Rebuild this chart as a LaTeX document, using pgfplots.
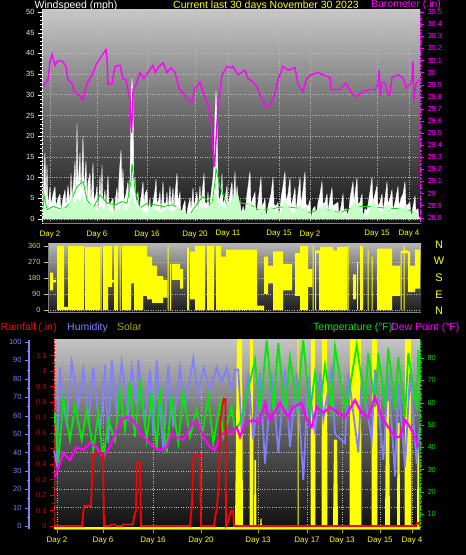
\documentclass[border=0pt]{standalone}
\usepackage{fontspec}
\setmainfont{Liberation Sans}
\usepackage{pgfplots}
\pgfplotsset{compat=1.18}
\definecolor{avgc}{RGB}{200,255,200}
\definecolor{spdc}{RGB}{0,230,0}
\definecolor{baroc}{RGB}{255,0,255}
\definecolor{dayc}{RGB}{255,255,0}
\definecolor{gridc}{RGB}{185,185,185}
\definecolor{humc}{RGB}{128,128,255}
\definecolor{rainc}{RGB}{255,0,0}
\definecolor{raintc}{RGB}{210,0,0}
\definecolor{tempc}{RGB}{0,235,0}
\definecolor{temptc}{RGB}{0,210,0}
\definecolor{dewc}{RGB}{255,0,255}
\definecolor{solc}{RGB}{255,255,0}
\definecolor{soltc}{RGB}{170,170,0}
\definecolor{dirtc}{RGB}{205,205,90}
\definecolor{windtc}{RGB}{232,236,255}
\definecolor{bgtop}{RGB}{200,200,200}
\definecolor{bgmid}{RGB}{104,104,104}
\definecolor{bgbot}{RGB}{18,18,18}
\pgfplotsset{
  mybase/.style={
    scale only axis, anchor=south west,
    /pgf/number format/assume math mode=true,
    tick label style={font=\fontsize{7.5}{8}\selectfont},
    tick align=outside,
    major tick length=4bp, minor tick length=2bp,
    major grid style={gridc, dotted, line width=0.6bp},
  },
  mybg/.style={axis background/.style={top color=bgtop, bottom color=bgbot, middle color=bgmid}},
}
\begin{document}
\begin{tikzpicture}
\path[use as bounding box, fill=black] (0,0) rectangle (466bp,555bp);

% ---------- titles ----------
\node[anchor=base west, inner sep=0, text=white, font=\fontsize{10.5}{12}\selectfont] at (34.5bp,546.5bp) {Windspeed (mph)};
\node[anchor=base west, inner sep=0, text=dayc, font=\fontsize{10.5}{12}\selectfont] at (173bp,546.5bp) {Current last 30 days November 30 2023};
\node[anchor=base west, inner sep=0, text=baroc, font=\fontsize{10.5}{12}\selectfont] at (371bp,547.5bp) {Barometer (.in)};
\node[anchor=base west, inner sep=0, text=rainc, font=\fontsize{10.5}{12}\selectfont] at (0.5bp,224bp) {Rainfall (.in)};
\node[anchor=base west, inner sep=0, text=humc, font=\fontsize{10.5}{12}\selectfont] at (67bp,224bp) {Humidity};
\node[anchor=base west, inner sep=0, text=soltc, font=\fontsize{10.5}{12}\selectfont] at (117bp,224bp) {Solar};
\node[anchor=base west, inner sep=0, text=tempc, font=\fontsize{10.5}{12}\selectfont] at (313bp,224bp) {Temperature (°F)};
\node[anchor=base west, inner sep=0, text=dewc, font=\fontsize{10.5}{12}\selectfont] at (391bp,224bp) {Dew Point (°F)};
\foreach \l/\yy in {N/310,W/294,S/277,E/260,N/244}
  \node[inner sep=0, text=dayc, font=\fontsize{11}{12}\selectfont] at (439bp,\yy bp) {\l};

% ---------- top panel: wind ----------
\begin{axis}[mybase, mybg, at={(42bp,332bp)}, width=378bp, height=213bp,
  xmin=42, xmax=420, ymin=-1, ymax=50.5,
  axis x line*=bottom, axis y line*=left,
  x axis line style={gray}, y axis line style={white, densely dotted},
  ytick={0,5,...,50}, minor y tick num=4,
  yticklabel style={text=windtc}, y tick style={white},
  xtick={50,97,147,195,228,279,310,377,409},
  xticklabels={Day 2,Day 6,Day 16,Day 20,Day 11,Day 15,Day 2,Day 15,Day 4},
  xticklabel style={text=dayc, font=\fontsize{8}{9}\selectfont},
  x tick style={draw=none},
  grid=major]
\addplot[fill=white, draw=white, line width=0.3bp] coordinates {(42,0)(43,0)(44,12)(45,16)(46,4)(47,13)(48,3)(50,7.7)(51,3.5)(53,6)(55,7.7)(56,3)(58,5)(60,6)(61,2)(63,5)(65,7)(66,3)(68,8)(70,4)(71,11)(72,5)(74,10)(75,14)(76,6)(77,23)(78,8)(80,16)(81,6)(82,12)(83,20)(84,7)(86,14)(87,5)(88,9)(90,11)(91,3.5)(93,13.5)(94,4)(96,6)(97,8)(98,1)(100,10.5)(101,4)(102,13)(103,3.5)(105,7)(106,2)(108,10.5)(109,3.5)(111,4)(113,5)(114,0)(115,4)(117,7.5)(118,3)(119,10)(121,16.6)(122,8)(123,12)(124,4)(126,6)(128,9)(129,3.5)(130,10)(131,28)(132,34)(133,30)(134,8)(135,10)(136,3.5)(138,6.5)(139,2)(141,5)(143,9)(144,3.5)(145,6)(147,7)(148,2)(150,5)(151,0)(153,4)(155,7)(156,9.6)(157,3.5)(159,5)(160,6.5)(161,1)(163,9)(164,3.5)(166,4)(167,6.5)(168,2)(170,8)(171,3)(173,7.5)(174,2)(175,6)(177,11)(178,4)(180,6.5)(181,0)(183,3)(185,4.5)(186,0)(188,3)(190,5)(191,2)(193,7.5)(194,3)(197,6.5)(198,2)(200,8)(201,3.5)(202,6)(204,11)(205,4)(207,3.5)(208,6.5)(209,2)(211,6)(213,10)(214,13)(215,25)(216,31)(217,24)(218,10)(219,4)(221,6)(222,11)(223,3.5)(225,5)(227,8)(228,3)(230,6)(232,9)(233,3)(235,11.4)(236,3.5)(237,8)(239,3)(240,4.6)(241,0)(243,3)(245,1.5)(247,6)(250,11.4)(251,3.5)(253,5)(255,6.5)(256,0)(258,4)(261,10)(262,3)(264,4)(265,5)(266,0)(268,3)(271,6)(273,10)(274,3.5)(276,3)(278,4)(279,0)(281,5)(283,8)(285,11.4)(286,4)(288,6)(290,10)(291,3)(293,5)(295,7.5)(296,2)(298,6)(300,10)(301,3.5)(303,7)(305,11.4)(306,3.5)(308,3)(310,4.6)(311,0)(313,2.5)(315,3)(316,0)(318,4)(320,6)(322,9)(323,3.5)(325,4)(327,6)(328,2)(330,5)(332,7.5)(333,3)(335,3.5)(338,4)(339,0)(341,3)(343,6)(344,2)(346,2.5)(348,0)(350,5)(353,9)(354,4)(355,6)(357,10)(358,3.5)(360,4)(362,6)(363,0)(365,2.5)(367,2)(369,5)(372,10)(373,4)(375,6)(377,8)(378,3)(380,4)(382,6)(383,2)(385,5)(387,9)(388,3.5)(390,5)(392,7)(393,2)(395,4)(398,7.8)(399,3)(401,5)(403,6)(405,9)(406,3)(408,3.5)(410,4)(411,0)(413,3)(415,5.5)(416,2)(418,2.5)(419,0)(420,0)} \closedcycle;
\addplot[spdc, line width=0.9bp] coordinates {(43,2)(44,5.8)(47,2.2)(53,3)(63,2.2)(70,3.8)(77,7.8)(83,9)(87,4.6)(93,2.6)(100,5.8)(107,3.8)(115,3.4)(122,4.2)(127,3.8)(131,9)(132,13.4)(135,7)(140,2.6)(147,3.8)(155,3.4)(163,3)(173,3.4)(182,1.8)(187,0)(193,2.2)(200,4.6)(203,5.4)(212,3.4)(215,9)(216,12.2)(220,7.8)(227,3.4)(235,4)(250,3.5)(260,2)(273,2.5)(285,3)(300,2.5)(310,1.5)(322,2.5)(340,1.5)(355,3)(372,3)(387,2.5)(398,2.5)(410,2)(418,1)};
\addplot[fill=avgc, draw=avgc, line width=0.3bp] coordinates {(43,0)(44,3)(46,2.6)(48,1.4)(50,2.2)(53,2.5)(57,2.2)(60,1.5)(63,3)(66,2)(69,3.5)(72,5.4)(75,3.5)(77,5)(80,4)(82,5.8)(84,3.5)(86,4.6)(89,3)(92,3.8)(95,2)(97,1.8)(100,3)(103,2.2)(107,3.4)(110,2)(113,1.4)(116,2.6)(119,2)(123,3.8)(125,2)(128,2.2)(131,5)(132,6.2)(134,4)(135,3.4)(138,2)(140,3)(143,1.6)(147,1.4)(150,2.5)(152,3)(155,2)(157,2.2)(160,1.5)(163,1.8)(166,2.5)(170,2.2)(173,1.5)(177,3)(180,2)(183,2.2)(186,1)(188,1.5)(192,1.4)(195,2)(200,3)(203,2.5)(207,2.6)(210,3)(213,4.2)(216,7)(218,4)(222,3)(225,2.6)(227,4)(230,3.8)(233,5)(235,6)(238,5.6)(240,3)(242,1.5)(245,2)(248,3.5)(250,4)(252,2.5)(255,3)(258,1)(261,3.5)(264,2)(266,0.8)(269,2.5)(272,3)(274,1.5)(277,2)(280,1)(283,3)(285,4.5)(288,3)(291,2)(294,1)(297,2.5)(300,3.5)(303,2)(306,3)(309,1)(312,0.5)(315,1.5)(318,2.5)(322,3)(325,3.5)(328,1.5)(331,2.5)(334,2)(337,1)(340,2)(343,1)(346,0.5)(349,2)(352,3)(355,4.5)(358,3.5)(361,2)(364,1)(367,0.5)(370,2.5)(373,4)(376,3.5)(379,2)(382,1.5)(385,3)(388,3.5)(391,2.5)(394,1.5)(397,2)(400,3)(403,2)(406,3.5)(409,1.5)(412,1)(415,2)(418,1)(420,0)} \closedcycle;
\end{axis}

% ---------- top panel: barometer ----------
\begin{axis}[mybase, at={(42bp,332bp)}, width=378bp, height=213bp,
  xmin=42, xmax=420, ymin=28.756, ymax=30.517,
  axis x line=none, axis y line*=right,
  y axis line style={baroc, densely dotted},
  ytick={28.8,28.9,29.0,29.1,29.2,29.3,29.4,29.5,29.6,29.7,29.8,29.9,30.0,30.1,30.2,30.3,30.4,30.5},
  yticklabels={28.8,28.9,29,29.1,29.2,29.3,29.4,29.5,29.6,29.7,29.8,29.9,30,30.1,30.2,30.3,30.4,30.5},
  minor y tick num=1,
  yticklabel style={text=baroc}, y tick style={baroc}]
\addplot[baroc, line width=1.4bp] coordinates {(43,29.89)(48,29.94)(50,30.09)(52,30.15)(55,30.06)(58,30.10)(63,30.09)(66,30.05)(68,29.94)(72,29.91)(75,29.83)(80,29.81)(83,29.77)(87,29.91)(92,29.98)(97,30.08)(102,30.14)(106,30.19)(107,30.12)(108,29.90)(112,29.91)(115,30.05)(120,30.06)(123,29.95)(126,29.94)(128,29.86)(130,29.77)(131,29.57)(131.5,29.50)(132.5,29.69)(133,29.86)(136,29.90)(140,30.00)(144,29.95)(148,30.00)(153,30.06)(155,30.00)(159,30.05)(163,30.08)(167,30.00)(171,30.04)(175,30.00)(179,29.87)(185,29.81)(188,29.77)(192,29.76)(195,29.87)(200,29.92)(203,29.84)(208,29.73)(211,29.61)(213,29.36)(214.5,29.22)(216,29.44)(218,29.73)(219,29.77)(222,29.98)(227,30.05)(232,30.04)(233,30.05)(238,29.98)(245,30.02)(248,29.95)(253,29.92)(257,29.88)(261,29.80)(266,29.71)(270,29.73)(275,29.83)(278,29.94)(283,30.05)(288,30.02)(295,30.04)(298,29.90)(303,29.84)(306,29.94)(311,29.98)(318,30.00)(323,29.98)(330,29.96)(331,29.86)(340,29.86)(346,29.91)(351,29.84)(356,29.80)(363,29.84)(370,29.86)(375,29.86)(378,29.90)(379,30.02)(380,29.81)(382,29.92)(385,29.92)(388,29.81)(390,29.82)(392,29.96)(398,29.98)(403,29.96)(406,29.87)(411,29.91)(412,29.94)(413,30.09)(414,29.77)(416,29.91)(419,29.94)};
\end{axis}

% ---------- wind direction ----------
\begin{axis}[mybase, at={(48bp,243bp)}, width=373bp, height=68bp,
  axis background/.style={top color={rgb,255:red,180;green,180;blue,180}, bottom color={rgb,255:red,28;green,28;blue,28}, middle color={rgb,255:red,96;green,96;blue,96}},
  xmin=48, xmax=421, ymin=-11, ymax=371,
  axis x line*=bottom, axis y line*=left,
  axis line style={gray},
  xtick=\empty,
  ytick={0,90,180,270,360}, ymajorgrids,
  yticklabel style={text=dirtc}, y tick style={dirtc}]
\addplot[fill=solc, draw=none, unbounded coords=jump] coordinates {
(50,110)(50,210)(53,210)(53,110)(53,nan)
(53,155)(53,168)(56,168)(56,155)(56,nan)
(57,0)(57,360)(64,360)(64,0)(64,nan)
(64,0)(64,18)(68,18)(68,0)(68,nan)
(68,0)(68,360)(84,360)(84,0)(84,nan)
(85,0)(85,355)(100,355)(100,0)(100,nan)
(100.5,0)(100.5,360)(101.5,360)(101.5,0)(101.5,nan)
(103,0)(103,360)(108,360)(108,0)(108,nan)
(108,130)(108,360)(112,360)(112,130)(112,nan)
(112,155)(112,168)(114,168)(114,155)(114,nan)
(114,0)(114,360)(118,360)(118,0)(118,nan)
(119.5,0)(119.5,360)(120.5,360)(120.5,0)(120.5,nan)
(122,0)(122,360)(131,360)(131,0)(131,nan)
(131,150)(131,360)(134,360)(134,150)(134,nan)
(134,0)(134,360)(143,360)(143,0)(143,nan)
(143,80)(143,360)(147,360)(147,80)(147,nan)
(147,60)(147,300)(152,300)(152,60)(152,nan)
(152,40)(152,250)(157,250)(157,40)(157,nan)
(157,40)(157,190)(163,190)(163,40)(163,nan)
(163,70)(163,170)(167,170)(167,70)(167,nan)
(167.5,0)(167.5,360)(168.5,360)(168.5,0)(168.5,nan)
(170,0)(170,260)(171,260)(171,0)(171,nan)
(172,170)(172,260)(180,260)(180,170)(180,nan)
(180,120)(180,230)(183,230)(183,120)(183,nan)
(187,0)(187,350)(189,350)(189,0)(189,nan)
(190,60)(190,330)(195,330)(195,60)(195,nan)
(195,0)(195,360)(205,360)(205,0)(205,nan)
(207,0)(207,360)(214,360)(214,0)(214,nan)
(216,0)(216,360)(221,360)(221,0)(221,nan)
(221,0)(221,300)(226,300)(226,0)(226,nan)
(226,0)(226,340)(257,340)(257,0)(257,nan)
(257,0)(257,25)(264,25)(264,0)(264,nan)
(264,90)(264,300)(268,300)(268,90)(268,nan)
(268,150)(268,250)(273,250)(273,150)(273,nan)
(273,0)(273,330)(283,330)(283,0)(283,nan)
(283,110)(283,260)(292,260)(292,110)(292,nan)
(295,80)(295,320)(300,320)(300,80)(300,nan)
(300,0)(300,360)(308,360)(308,0)(308,nan)
(308,130)(308,230)(312,230)(312,130)(312,nan)
(312.5,0)(312.5,360)(313.5,360)(313.5,0)(313.5,nan)
(315,0)(315,335)(316,335)(316,0)(316,nan)
(316,320)(316,335)(319,335)(319,320)(319,nan)
(319,0)(319,335)(320,335)(320,0)(320,nan)
(320,0)(320,355)(333,355)(333,0)(333,nan)
(333,0)(333,335)(337,335)(337,0)(337,nan)
(337,0)(337,355)(347,355)(347,0)(347,nan)
(347.5,0)(347.5,360)(348.5,360)(348.5,0)(348.5,nan)
(353,60)(353,200)(356,200)(356,60)(356,nan)
(357,0)(357,270)(358,270)(358,0)(358,nan)
(360,0)(360,360)(363,360)(363,0)(363,nan)
(367.5,0)(367.5,340)(368.5,340)(368.5,0)(368.5,nan)
(371.5,0)(371.5,300)(372.5,300)(372.5,0)(372.5,nan)
(377,0)(377,345)(392,345)(392,0)(392,nan)
(392,80)(392,250)(400,250)(400,80)(400,nan)
(400.5,0)(400.5,330)(401.5,330)(401.5,0)(401.5,nan)
(401.5,320)(401.5,335)(408,335)(408,320)(408,nan)
(403.5,0)(403.5,360)(404.5,360)(404.5,0)(404.5,nan)
(408,100)(408,330)(410,330)(410,100)(410,nan)
(410,100)(410,250)(415,250)(415,100)(415,nan)
(415,120)(415,340)(420,340)(420,120)};
\end{axis}

% ---------- bottom panel: background, rain scale, grid ----------
\begin{axis}[mybase, at={(54bp,26bp)}, width=366bp, height=189bp,
  axis background/.style={top color={rgb,255:red,196;green,196;blue,196}, bottom color={rgb,255:red,16;green,16;blue,16}, middle color={rgb,255:red,92;green,92;blue,92}},
  xmin=54, xmax=420, ymin=-0.019, ymax=1.2,
  axis x line*=bottom, axis y line*=left,
  x axis line style={gray}, y axis line style={raintc, densely dotted},
  ytick={0,0.1,0.2,0.3,0.4,0.5,0.6,0.7,0.8,0.9,1.0,1.1},
  yticklabels={0,0.1,0.2,0.3,0.4,0.5,0.6,0.7,0.8,0.9,1,1.1},
  minor y tick num=1,
  yticklabel style={text=raintc}, y tick style={raintc},
  xtick={57,103,153,201,258,307,342,380,412},
  xticklabels={Day 2,Day 6,Day 16,Day 20,Day 13,Day 17,Day 13,Day 15,Day 4},
  xticklabel style={text=dayc, font=\fontsize{8}{9}\selectfont},
  x tick style={dayc!70!black},
  xmajorgrids,
  extra y ticks={0.1187,0.2374,0.3561,0.4748,0.5935,0.7122,0.8309,0.9496,1.0683,1.187},
  extra y tick labels={},
  extra y tick style={grid=major, major tick length=0pt}]
\end{axis}

% ---------- humidity + solar ----------
\begin{axis}[mybase, at={(29bp,26bp)}, width=391bp, height=189bp,
  xmin=29, xmax=420, ymin=-1.6, ymax=101.1,
  axis x line=none, axis y line*=left,
  y axis line style={humc, line width=1.2bp},
  ytick={0,10,...,100}, minor y tick num=1,
  yticklabel style={text=humc}, y tick style={humc}]
\addplot[fill=solc, draw=none, unbounded coords=jump] coordinates {
(235,-1.6)(237,102)(242,102)(243,-1.6)(243,nan)
(249.5,-1.6)(250,102)(253,102)(253.5,-1.6)(253.5,nan)
(254,-1.6)(254.5,36)(256,36)(256.5,-1.6)(256.5,nan)
(260,-1.6)(260.5,4)(261.5,4)(262,-1.6)(262,nan)
(297.5,-1.6)(297.5,102)(298.5,102)(298.5,-1.6)(298.5,nan)
(310.5,-1.6)(311,102)(315,102)(315.5,-1.6)(315.5,nan)
(321.5,-1.6)(322,102)(327,102)(327.5,-1.6)(327.5,nan)
(333,-1.6)(334,47)(337,47)(338,-1.6)(338,nan)
(349.5,-1.6)(350,102)(361,102)(361.5,-1.6)(361.5,nan)
(371.5,-1.6)(372,102)(377,102)(377.5,-1.6)(377.5,nan)
(385,-1.6)(386,68)(389,68)(390,-1.6)(390,nan)
(397,-1.6)(397.5,56)(399.5,56)(400,-1.6)(400,nan)
(404.5,-1.6)(405,102)(411,102)(411.5,-1.6)(411.5,nan)
(417,-1.6)(417.5,43)(419,43)(419.5,-1.6)};
\addplot[solc, line width=1.8bp] coordinates {(54,-1)(420,-1)};
\addplot[humc, line width=1.8bp] coordinates {(54,41)(56.7,34)(60,86)(63.3,65)(66.7,56)(71.7,89)(75,78)(78.3,65)(83.3,85)(88.3,56)(93.3,86)(100,50)(105,87.5)(108.3,45)(111.7,90)(116.7,61)(121.7,89)(128.3,61)(131.7,86)(136.7,65)(138.3,90)(145,56)(150,85)(153.3,50)(156.7,90)(163.3,41)(168.3,87.5)(173.3,54)(180,86)(185,65)(193.3,91)(198.3,70)(203.3,86)(210,74)(216.7,86)(221.7,78)(226.7,86)(231.7,74)(235,85)(238.3,85)(241.7,50)(248.3,83)(253.3,47)(260,83)(265,34)(271.7,83)(278.3,40)(285,85)(290,43)(296.7,83)(303.3,25)(308.3,81)(315,50)(320,83)(323.3,58)(331.7,85)(335,50)(345,45)(348.3,83)(358.3,40)(361.7,81)(371.7,47)(375,85)(383.3,36)(388.3,83)(395,27)(398.3,78)(405,32)(410,83)(416.7,34)(420,55)};
\end{axis}

% ---------- temperature + dew point ----------
\begin{axis}[mybase, at={(54bp,26bp)}, width=366bp, height=189bp,
  xmin=54, xmax=420, ymin=3.27, ymax=88.1,
  axis x line=none, axis y line*=right,
  y axis line style={temptc, densely dotted},
  ytick={10,20,...,80}, minor y tick num=4,
  yticklabel style={text=temptc}, y tick style={temptc}]
\addplot[tempc, line width=1.8bp] coordinates {(54,50.8)(55,55.3)(58.3,32.9)(63.3,62)(70,43.2)(75,58.9)(81.7,43.2)(86.7,56.7)(93.3,38.7)(98.3,55.3)(103.3,34.2)(108.3,52.2)(115,43.2)(120,65.6)(125,47.7)(130,69.2)(135,44.6)(140,68.8)(146.7,43.2)(151.7,64.3)(156.7,38.7)(160,66.5)(166.7,37.4)(171.7,62.5)(178.3,41.9)(183.3,64.3)(190,44.6)(196.7,56.7)(201.7,44.6)(208.3,62.5)(213.3,41.9)(220,59.8)(223.3,44.6)(231.7,58)(235,47.7)(240,50.8)(255,79)(260,55.3)(266.7,88)(273.3,56.7)(278.3,86.7)(285,55.3)(290,80.4)(296.7,58)(303.3,88)(310,55.3)(315,73.3)(320,58)(325,76.8)(331.7,56.7)(335,84.9)(345,58)(350,67)(356.7,85.8)(365,59.8)(368.3,82.2)(375,58)(378.3,82.2)(385,58)(388.3,84.5)(395,56.7)(398.3,80.4)(405,53.5)(408.3,82.2)(416.7,56.7)(418.3,83.6)(420,70)};
\addplot[dewc, line width=2.2bp] coordinates {(54,26.6)(56.7,28.4)(63.3,37.4)(70,34.2)(76.7,40)(83.3,38.7)(90,41.9)(96.7,40)(103.3,35.6)(110,40)(116.7,47.7)(121.7,52.2)(126.7,53.5)(133.3,52.2)(140,46.3)(146.7,43.2)(153.3,40)(160,38.7)(166.7,40)(171.7,46.3)(176.7,44.6)(183.3,43.2)(190,49)(196.7,52.2)(203.3,44.6)(210,40)(215,38.7)(220,44.6)(226.7,47.7)(231.7,46.3)(236.7,49)(240,44.6)(245,50.8)(253.3,52.2)(258.3,50.8)(265,59.8)(270,52.2)(280,59.8)(288.3,53.5)(293.3,58)(301.7,59.8)(306.7,52.2)(311.7,49)(316.7,58)(323.3,55.3)(330,58)(338.3,55.3)(345,53.5)(355,61.1)(361.7,55.3)(368.3,53.5)(375,62.5)(381.7,53.5)(388.3,49)(395,44.6)(400,44.6)(405,52.2)(410,49)(415,44.6)(418.3,40)};
\end{axis}

% ---------- rainfall ----------
\begin{axis}[mybase, hide axis, at={(54bp,26bp)}, width=366bp, height=189bp,
  xmin=54, xmax=420, ymin=-0.019, ymax=1.2]
\addplot[rainc, line width=1.8bp] coordinates {(54,0)(82,0)(84,0.13)(91,0.13)(93,0.46)(95,0.47)(103,0.47)(104,0)(110,0)(111,0.01)(115,0.01)(116,0)(122,0)(123,0.01)(133,0.01)(134,0.06)(136,0.1)(137,0.41)(140,0.41)(141,0)(190,0)(191,0.08)(192,0.13)(193,0.42)(195,0.46)(200,0.46)(201,0)(214,0)(215,0.05)(217,0.12)(219,0.3)(220,0.64)(222,0.77)(224,0.82)(225.5,0.82)(226,0)(227,0.01)(229,0.05)(231,0.1)(233,0.1)(234,0)(416,0)(417,0.02)(419,0.02)(420,0)};
\end{axis}
\end{tikzpicture}
\end{document}
